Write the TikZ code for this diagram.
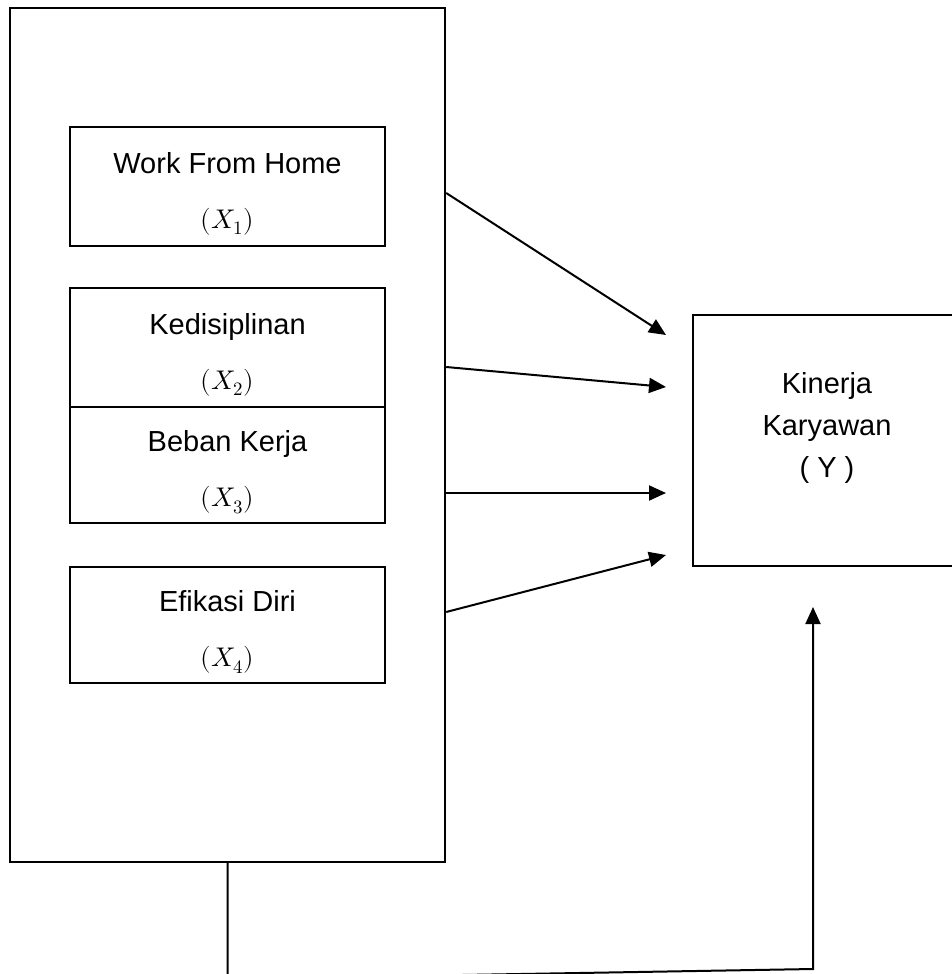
\documentclass[tikz,border=0pt]{standalone}
\usepackage{fontspec}
\usepackage{unicode-math}
\setmainfont{Liberation Sans}
\setmathfont{Latin Modern Math}
\usetikzlibrary{arrows.meta}

\tikzset{
  varbox/.style = {draw, minimum width = 157.5pt, minimum height = 59.5pt, inner sep = 0pt},
  vartext/.style = {align = center, inner sep = 0pt, font = \fontsize{14.5}{17.5}\selectfont},
}
\newcommand{\varsym}[1]{{\fontsize{13.5}{17.5}\selectfont$(X_{#1})$}}

\begin{document}
\begin{tikzpicture}[x = 0.5pt, y = -0.5pt, line width = 1pt, >={Triangle[length = 8.5pt, width = 7.5pt]}]
\useasboundingbox (0,0) rectangle (952,974);
\node[draw, line width = 1.2pt, minimum width = 217.5pt, minimum height = 427pt] (outer) at (227.5,435) {};
% variabel bebas
\node[varbox] (wfh) at (227.5,186.5) {};
\node[vartext] (wfhtext) at ([yshift = -3.5pt]wfh.center) {Work From Home\\[10pt]\varsym{1}};
\node[varbox] (disiplin) at (227.5,347.5) {};
\node[vartext] (disiplintext) at ([yshift = -3.5pt]disiplin.center) {Kedisiplinan\\[10pt]\varsym{2}};
\node[varbox, minimum height = 58pt] (beban) at (227.5,465) {};
\node[vartext] (bebantext) at ([yshift = -3.5pt]beban.center) {Beban Kerja\\[10pt]\varsym{3}};
\node[varbox, minimum height = 58pt] (efikasi) at (227.5,625) {};
\node[vartext] (efikasitext) at ([yshift = -3.5pt]efikasi.center) {Efikasi Diri\\[10pt]\varsym{4}};
% variabel terikat
\node[draw, minimum width = 132.5pt, minimum height = 125.5pt] (kinerja) at (825.5,440.5) {};
\node[vartext, font = \fontsize{14.5}{21}\selectfont] (kinerjatext) at (827,428) {Kinerja\\Karyawan\\( Y )};
\foreach \ys/\ye in {193/335, 367/387, 493/493, 612/555}
{
\draw[->] (outer.east |- 0,\ys) -- (666,\ye);
}
\coordinate (bendl) at (228,979);
\coordinate (bendr) at (813,969);
\draw[->] (outer.south) -- (outer.south |- bendl) -- (bendr) -- (bendr |- 0,607);
\end{tikzpicture}
\end{document}
